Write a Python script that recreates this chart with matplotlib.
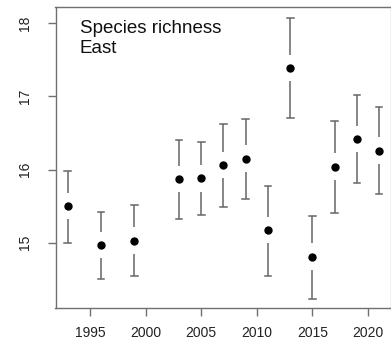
import matplotlib
matplotlib.use("Agg")
import matplotlib.pyplot as plt

plt.rcParams['font.family'] = ['Liberation Sans', 'DejaVu Sans']

years = [1993, 1996, 1999, 2003, 2005, 2007, 2009, 2011, 2013, 2015, 2017, 2019, 2021]
richness = [15.50, 14.97, 15.03, 15.87, 15.88, 16.06, 16.15, 15.17, 17.39, 14.81, 16.04, 16.42, 16.26]
ci_low = [15.00, 14.51, 14.54, 15.33, 15.38, 15.49, 15.60, 14.55, 16.71, 14.23, 15.40, 15.81, 15.66]
ci_high = [15.98, 15.42, 15.52, 16.41, 16.38, 16.63, 16.69, 15.77, 18.07, 15.36, 16.66, 17.02, 16.86]
x_ticks = [1995, 2000, 2005, 2010, 2015, 2020]
y_ticks = [15, 16, 17, 18]

W, H, DPI = 391, 339, 100
fig = plt.figure(figsize=(W / DPI, H / DPI), dpi=DPI)
ax = fig.add_axes([55.5 / W, (H - 308) / H, (390.5 - 55.5) / W, (308 - 6.5) / H])
ax.set_xlim(1991.9, 2022.02)
ax.set_ylim(14.107, 18.23)

bar_color = "#666666"
gap = 0.18  # blank space left around each point
cap = 0.3   # half-width of the whisker caps, in years
for x, m, lo, hi in zip(years, richness, ci_low, ci_high):
    ax.plot([x, x], [m + gap, hi], color=bar_color, lw=1.1, solid_capstyle="butt")
    ax.plot([x, x], [lo, m - gap], color=bar_color, lw=1.1, solid_capstyle="butt")
    ax.plot([x - cap, x + cap], [hi, hi], color=bar_color, lw=1.1)
    ax.plot([x - cap, x + cap], [lo, lo], color=bar_color, lw=1.1)

ax.plot(years, richness, "o", color="black", markersize=5.0, zorder=3)

ax.set_xticks(x_ticks)
ax.set_yticks(y_ticks)
ax.set_xticklabels([str(t) for t in x_ticks], fontsize=10, color="#222222")
ax.set_yticklabels([str(t) for t in y_ticks], fontsize=10, color="#222222",
                   rotation=90, va="center")
ax.tick_params(axis="both", length=6, width=1, color="#707070", pad=7)
ax.tick_params(axis="y", pad=11)

for side in ["left", "bottom", "top"]:
    ax.spines[side].set_color("#707070")
    ax.spines[side].set_linewidth(1.0)
ax.spines["right"].set_color("#bbbbbb")
ax.spines["right"].set_linewidth(1.0)

ax.text(0.073, 0.955, "Species richness\nEast", transform=ax.transAxes,
        fontsize=13.5, va="top", ha="left", linespacing=1.2, color="#111111")

fig.savefig("out.png", dpi=DPI)
